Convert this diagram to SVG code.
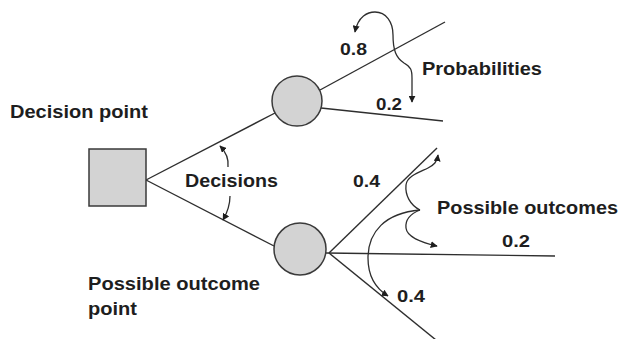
<svg xmlns="http://www.w3.org/2000/svg" width="619" height="339" viewBox="0 0 619 339">
  <defs>
    <style>
      .node { fill: #d3d3d3; stroke: #3a3a3a; stroke-width: 1.5; }
      .edge { fill: none; stroke: #2e2e2e; stroke-width: 1.4; }
      .ann { fill: none; stroke: #2e2e2e; stroke-width: 1.3; }
      .lbl { font-family: "Liberation Sans", Arial, sans-serif; font-weight: bold; font-size: 18px; fill: #1e1e1e; }
      .num { font-family: "Liberation Sans", Arial, sans-serif; font-weight: bold; font-size: 16px; fill: #1e1e1e; }
    </style>
    <marker id="ah" viewBox="0 0 10 10" refX="9" refY="5" markerWidth="7" markerHeight="7" markerUnits="userSpaceOnUse" orient="auto-start-reverse">
      <path d="M0,0 L10,5 L0,10 z" fill="#1e1e1e"/>
    </marker>
  </defs>
  <rect width="619" height="339" fill="#ffffff"/>

  <g id="connectors">
    <line class="edge" x1="146" y1="180" x2="275" y2="113"/>
    <line class="edge" x1="146" y1="180" x2="274" y2="246"/>
    <line class="edge" x1="320" y1="90" x2="445" y2="22"/>
    <line class="edge" x1="321" y1="108" x2="443" y2="121"/>
    <line class="edge" x1="329" y1="253" x2="437" y2="148"/>
    <line class="edge" x1="326" y1="253" x2="555" y2="256"/>
    <line class="edge" x1="329" y1="253" x2="436" y2="340"/>
  </g>

  <g id="decision-point">
    <rect class="node" x="89" y="149" width="57" height="57"/>
  </g>
  <g id="outcome-upper">
    <circle class="node" cx="297" cy="101" r="25"/>
  </g>
  <g id="outcome-lower">
    <circle class="node" cx="300" cy="249" r="26"/>
  </g>

  <g id="annotations">
    <path class="ann" d="M228,167 C229,158 225,151 220,146" marker-end="url(#ah)"/>
    <path class="ann" d="M230,196 C230,205 227,213 223,220" marker-end="url(#ah)"/>
    <path class="ann" d="M355,32 C358,16 368,12 375,12 C386,12 393,22 393,35 C393,50 396,58 404,63 C411,67 412,70 412,78 L412,102" marker-start="url(#ah)" marker-end="url(#ah)"/>
    <path class="ann" d="M420,210 C410,205 405,195 406,185 C407,176 420,172 428,168 C434,165 437,162 438,155" marker-end="url(#ah)"/>
    <path class="ann" d="M420,210 C410,214 405,220 406,228 C407,237 420,242 437,246" marker-end="url(#ah)"/>
    <path class="ann" d="M420,210 C385,213 368,232 368,258 C368,275 375,288 388,296" marker-end="url(#ah)"/>
  </g>

  <g id="labels">
    <text class="lbl" x="10" y="118" textLength="138" lengthAdjust="spacingAndGlyphs">Decision point</text>
    <text class="lbl" x="185" y="187" textLength="93" lengthAdjust="spacingAndGlyphs">Decisions</text>
    <text class="lbl" x="88" y="290" textLength="172" lengthAdjust="spacingAndGlyphs">Possible outcome</text>
    <text class="lbl" x="88" y="315" textLength="49" lengthAdjust="spacingAndGlyphs">point</text>
    <text class="lbl" x="422" y="75" textLength="120" lengthAdjust="spacingAndGlyphs">Probabilities</text>
    <text class="lbl" x="437" y="214" textLength="181" lengthAdjust="spacingAndGlyphs">Possible outcomes</text>
    <text class="num" x="340" y="55" textLength="27" lengthAdjust="spacingAndGlyphs">0.8</text>
    <text class="num" x="376" y="110" textLength="26" lengthAdjust="spacingAndGlyphs">0.2</text>
    <text class="num" x="353" y="187" textLength="27" lengthAdjust="spacingAndGlyphs">0.4</text>
    <text class="num" x="502" y="247" textLength="28" lengthAdjust="spacingAndGlyphs">0.2</text>
    <text class="num" x="397" y="302" textLength="28" lengthAdjust="spacingAndGlyphs">0.4</text>
  </g>
</svg>
